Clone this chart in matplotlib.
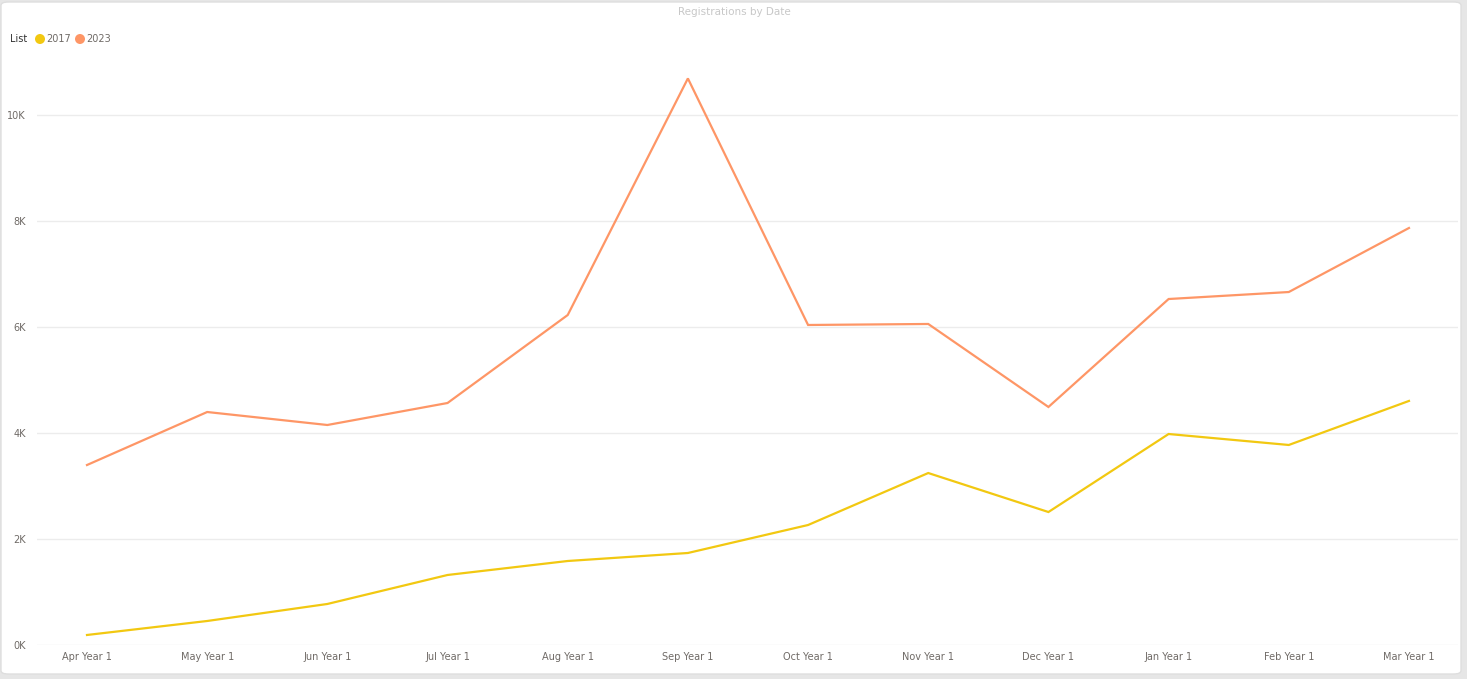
import matplotlib.pyplot as plt
from matplotlib.patches import FancyBboxPatch, Ellipse

months = ["Apr Year 1", "May Year 1", "Jun Year 1", "Jul Year 1", "Aug Year 1", "Sep Year 1",
          "Oct Year 1", "Nov Year 1", "Dec Year 1", "Jan Year 1", "Feb Year 1", "Mar Year 1"]
reg_2017 = [189, 453, 774, 1321, 1585, 1736, 2264, 3245, 2509, 3981, 3774, 4605]
reg_2023 = [3396, 4396, 4151, 4566, 6226, 10690, 6038, 6057, 4491, 6528, 6660, 7868]
yticks = [0, 2000, 4000, 6000, 8000, 10000]
ytick_labels = ["0K", "2K", "4K", "6K", "8K", "10K"]

c2017 = "#F2C811"
c2023 = "#FE9666"
tick_col = "#6f6a66"

W, H = 1467, 679
fig = plt.figure(figsize=(W / 100, H / 100), dpi=100)
fig.patch.set_facecolor("#e6e6e6")

# white card behind everything
card = FancyBboxPatch((1 / W, 5 / H), 1460 / W, 672 / H, boxstyle="round,pad=0,rounding_size=0.005",
                      transform=fig.transFigure, facecolor="white", edgecolor="#dedede",
                      linewidth=1, zorder=-10)
fig.patches.append(card)

# plot area: x 37..1458 px, y 60..645 px
ax = fig.add_axes([37 / W, 34 / H, (1458 - 37) / W, (645 - 60) / H])
ax.set_facecolor("none")
ax.set_zorder(5)

x = list(range(len(months)))
ax.plot(x, reg_2017, color=c2017, linewidth=1.6, solid_joinstyle="miter", zorder=3)
ax.plot(x, reg_2023, color=c2023, linewidth=1.6, solid_joinstyle="miter", zorder=3)

ax.set_xlim(-0.416, 11.408)
ax.set_ylim(0, 585 / 53 * 1000)
ax.set_xticks(x)
ax.set_xticklabels(months, fontsize=7, color=tick_col)
ax.set_yticks(yticks)
ax.set_yticklabels(ytick_labels, fontsize=7, color=tick_col)
ax.tick_params(length=0, pad=5)
ax.tick_params(axis="y", pad=8)
ax.grid(axis="y", color="#ececec", linewidth=1)
ax.set_axisbelow(True)
for s in ax.spines.values():
    s.set_visible(False)

# title
fig.text(734 / W, 1 - 12 / H, "Registrations by Date", ha="center", va="center",
         fontsize=7.5, color="#c8c8c8")

# legend
fig.text(10 / W, 1 - 39 / H, "List", ha="left", va="center", fontsize=7, color="#333333")
for cx, tx, lab, col in [(40, 46, "2017", c2017), (80, 86, "2023", c2023)]:
    fig.patches.append(Ellipse((cx / W, 1 - 39 / H), 10 / W, 10 / H, transform=fig.transFigure,
                               facecolor=col, edgecolor="none"))
    fig.text(tx / W, 1 - 39 / H, lab, ha="left", va="center", fontsize=7, color=tick_col)

fig.savefig("out.png", dpi=100)
